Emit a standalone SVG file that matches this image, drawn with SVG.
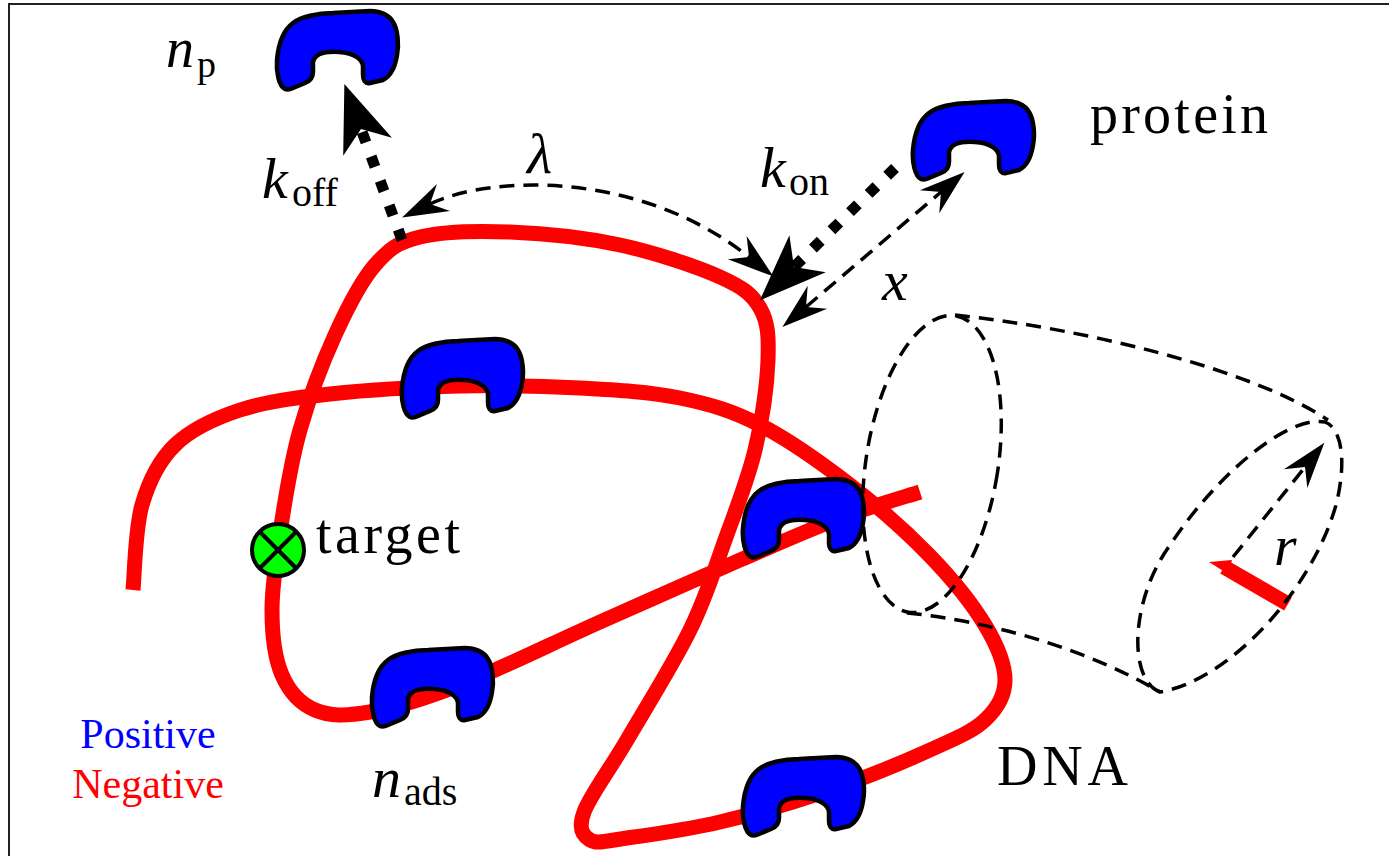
<svg xmlns="http://www.w3.org/2000/svg" xmlns:xlink="http://www.w3.org/1999/xlink" width="1389" height="856" viewBox="0 0 1389 856">
  <style>
    .frame { fill: none; stroke: #222; stroke-width: 2; }
    .dna { fill: none; stroke: #ff0000; stroke-width: 15; stroke-linecap: butt; stroke-linejoin: round; }
    .protein { fill: #0000ff; stroke: #000; stroke-width: 4.5; stroke-linejoin: round; }
    .thick-dots { fill: none; stroke: #000; stroke-width: 11; stroke-dasharray: 11 15; stroke-linecap: butt; }
    .thin-dash { fill: none; stroke: #000; stroke-width: 3.5; stroke-dasharray: 15 9; stroke-linecap: butt; }
    text { font-family: 'Liberation Serif', 'DejaVu Serif', serif; fill: #000; }
    .it { font-style: italic; }
  </style>
  <defs>
    <!-- C-shaped protein outline, 122 x 80 box -->
    <path id="protein-shape" d="M 8 79 C 2 76, -1 62, 0 50 C 1 38, 4 22, 16 13 C 24 7, 40 3, 56 3 L 93 1 C 103 1, 112 5, 116 12 C 121 20, 122 35, 120 45 C 118 58, 114 66, 106 70 L 93 73 C 88 74, 86 70, 86 65 L 86 57 C 86 50, 78 43, 62 42 C 48 41, 38 43, 36 52 L 36 62 C 36 68, 33 71, 28 73 L 16 78 C 12 80, 10 80, 8 79 Z"/>
    <marker id="head-big" markerUnits="userSpaceOnUse" markerWidth="90" markerHeight="70" viewBox="-25 -35 90 70" refX="0" refY="0" orient="auto" overflow="visible">
      <path d="M 48 0 L -19 -26 L 0 0 L -19 26 Z" fill="#000"/>
    </marker>
    <marker id="head-thin" markerUnits="userSpaceOnUse" markerWidth="60" markerHeight="40" viewBox="-20 -20 60 40" refX="0" refY="0" orient="auto-start-reverse" overflow="visible">
      <path d="M 31 0 L -15 -15 L 0 0 L -15 15 Z" fill="#000"/>
    </marker>
  </defs>

  <!-- outer frame (left and top edges) -->
  <path class="frame" d="M 9 856 V 4 H 1389"/>

  <!-- DNA strand -->
  <g id="dna">
    <path class="dna" d="M 133 590 C 134.5 575.8, 135 529.2, 142 505 C 149 480.8, 158.7 460.8, 175 445 C 191.3 429.2, 214.2 418.5, 240 410 C 265.8 401.5, 293.3 398, 330 394 C 366.7 390, 418.3 387, 460 386 C 501.7 385, 543.3 386, 580 388 C 616.7 390, 650 391.8, 680 398 C 710 404.2, 731.7 410.5, 760 425 C 788.3 439.5, 821.7 463.2, 850 485 C 878.3 506.8, 907.5 532.7, 930 556 C 952.5 579.3, 972.5 604.3, 985 625 C 997.5 645.7, 1005 664.2, 1005 680 C 1005 695.8, 997.5 708.3, 985 720 C 972.5 731.7, 955.8 738.3, 930 750 C 904.2 761.7, 865 778, 830 790 C 795 802, 753.8 814, 720 822 C 686.2 830, 648.7 835, 627 838 C 605.3 841, 597.2 844.3, 590 840 C 582.8 835.7, 577.8 828.7, 584 812 C 590.2 795.3, 609.3 770.3, 627 740 C 644.7 709.7, 673.7 663.3, 690 630 C 706.3 596.7, 714.2 570, 725 540 C 735.8 510, 747.8 480, 755 450 C 762.2 420, 767.2 383.7, 768 360 C 768.8 336.3, 768 321.8, 760 308 C 752 294.2, 743.3 287.5, 720 277 C 696.7 266.5, 655 252.5, 620 245 C 585 237.5, 543.3 233.3, 510 232 C 476.7 230.7, 442.5 231.5, 420 237 C 397.5 242.5, 389.2 248.7, 375 265 C 360.8 281.3, 347.5 307.5, 335 335 C 322.5 362.5, 308.8 399.2, 300 430 C 291.2 460.8, 286.7 490, 282 520 C 277.3 550, 272 584.2, 272 610 C 272 635.8, 274.8 658.3, 282 675 C 289.2 691.7, 300.3 703.8, 315 710 C 329.7 716.2, 345.8 716.2, 370 712 C 394.2 707.8, 421.7 700, 460 685 C 498.3 670, 553.3 642.8, 600 622 C 646.7 601.2, 700 577.3, 740 560 C 780 542.7, 810 529.3, 840 518 C 870 506.7, 906.7 496.3, 920 492"/>
    <!-- strand end inside the cylinder -->
    <path class="dna" d="M 1224 567 L 1288 604"/>
    <path d="M 1209 562 L 1232 560 L 1228 574 Z" fill="#ff0000"/>
  </g>

  <!-- target site -->
  <g id="target">
    <circle cx="278" cy="550" r="26" fill="#00ff00" stroke="#000" stroke-width="4"/>
    <path d="M 260 532 L 296 568 M 296 532 L 260 568" stroke="#000" stroke-width="4" fill="none"/>
  </g>

  <!-- proteins -->
  <g id="protein-free-top"><use class="protein" xlink:href="#protein-shape" transform="translate(277 10)"/></g>
  <g id="protein-free-right"><use class="protein" xlink:href="#protein-shape" transform="translate(913 100)"/></g>
  <g id="protein-bound-1"><use class="protein" xlink:href="#protein-shape" transform="translate(402 338)"/></g>
  <g id="protein-bound-2"><use class="protein" xlink:href="#protein-shape" transform="translate(743 478)"/></g>
  <g id="protein-bound-3"><use class="protein" xlink:href="#protein-shape" transform="translate(372 647)"/></g>
  <g id="protein-bound-4"><use class="protein" xlink:href="#protein-shape" transform="translate(743 756)"/></g>

  <!-- connectors -->
  <g id="connectors">
    <path class="thick-dots" d="M 402 240 L 361 129" marker-end="url(#head-big)"/>
    <path class="thick-dots" d="M 895 168 L 794 267" marker-end="url(#head-big)"/>
    <path class="thin-dash" d="M 430 204 C 490 175, 640 170, 749 257" marker-start="url(#head-thin)" marker-end="url(#head-thin)"/>
    <path class="thin-dash" d="M 806 307 L 941 192" marker-start="url(#head-thin)" marker-end="url(#head-thin)"/>
    <path class="thin-dash" d="M 1233 557 L 1305 467" marker-end="url(#head-thin)"/>
  </g>

  <!-- capture cylinder around the strand -->
  <g id="cylinder">
    <ellipse class="thin-dash" cx="932" cy="464" rx="66" ry="150" transform="rotate(9 932 464)"/>
    <path class="thin-dash" d="M 955 315 C 1080 328, 1250 368, 1328 420"/>
    <path class="thin-dash" d="M 907 613 C 980 620, 1080 645, 1160 692"/>
    <path class="thin-dash" d="M 1160 692 C 1128 680, 1130 600, 1170 545 C 1220 470, 1290 415, 1325 422 C 1345 430, 1345 470, 1336 505 C 1312 590, 1230 680, 1160 692 Z"/>
  </g>

  <!-- labels -->
  <g id="labels" font-family="'Liberation Serif', 'DejaVu Serif', serif">
    <text class="it" x="166" y="67" font-size="56" font-family="Liberation Serif">n</text>
    <text x="197" y="77" font-size="38" font-family="Liberation Serif">p</text>

    <text class="it" x="262" y="198" font-size="58" font-family="Liberation Serif">k</text>
    <text x="292" y="206" font-size="40" font-family="Liberation Serif">off</text>

    <text class="it" x="760" y="187" font-size="58" font-family="Liberation Serif">k</text>
    <text x="789" y="195" font-size="40" font-family="Liberation Serif">on</text>

    <text class="it" x="527" y="173" font-size="58" font-family="Liberation Serif">λ</text>
    <text class="it" x="882" y="300" font-size="58" font-family="Liberation Serif">x</text>
    <text class="it" x="1274" y="565" font-size="58" font-family="Liberation Serif">r</text>

    <text x="1090" y="133" font-size="56" font-family="Liberation Serif" textLength="178" lengthAdjust="spacing">protein</text>
    <text x="316" y="553" font-size="56" font-family="Liberation Serif" textLength="144" lengthAdjust="spacing">target</text>
    <text x="997" y="785" font-size="56" font-family="Liberation Serif" textLength="131" lengthAdjust="spacing">DNA</text>

    <text x="148" y="748" font-size="42" font-family="Liberation Serif" text-anchor="middle" style="fill:#0000ff">Positive</text>
    <text x="148" y="798" font-size="42" font-family="Liberation Serif" text-anchor="middle" style="fill:#ff0000">Negative</text>

    <text class="it" x="372" y="797" font-size="58" font-family="Liberation Serif">n</text>
    <text x="404" y="805" font-size="40" font-family="Liberation Serif">ads</text>
  </g>
</svg>
